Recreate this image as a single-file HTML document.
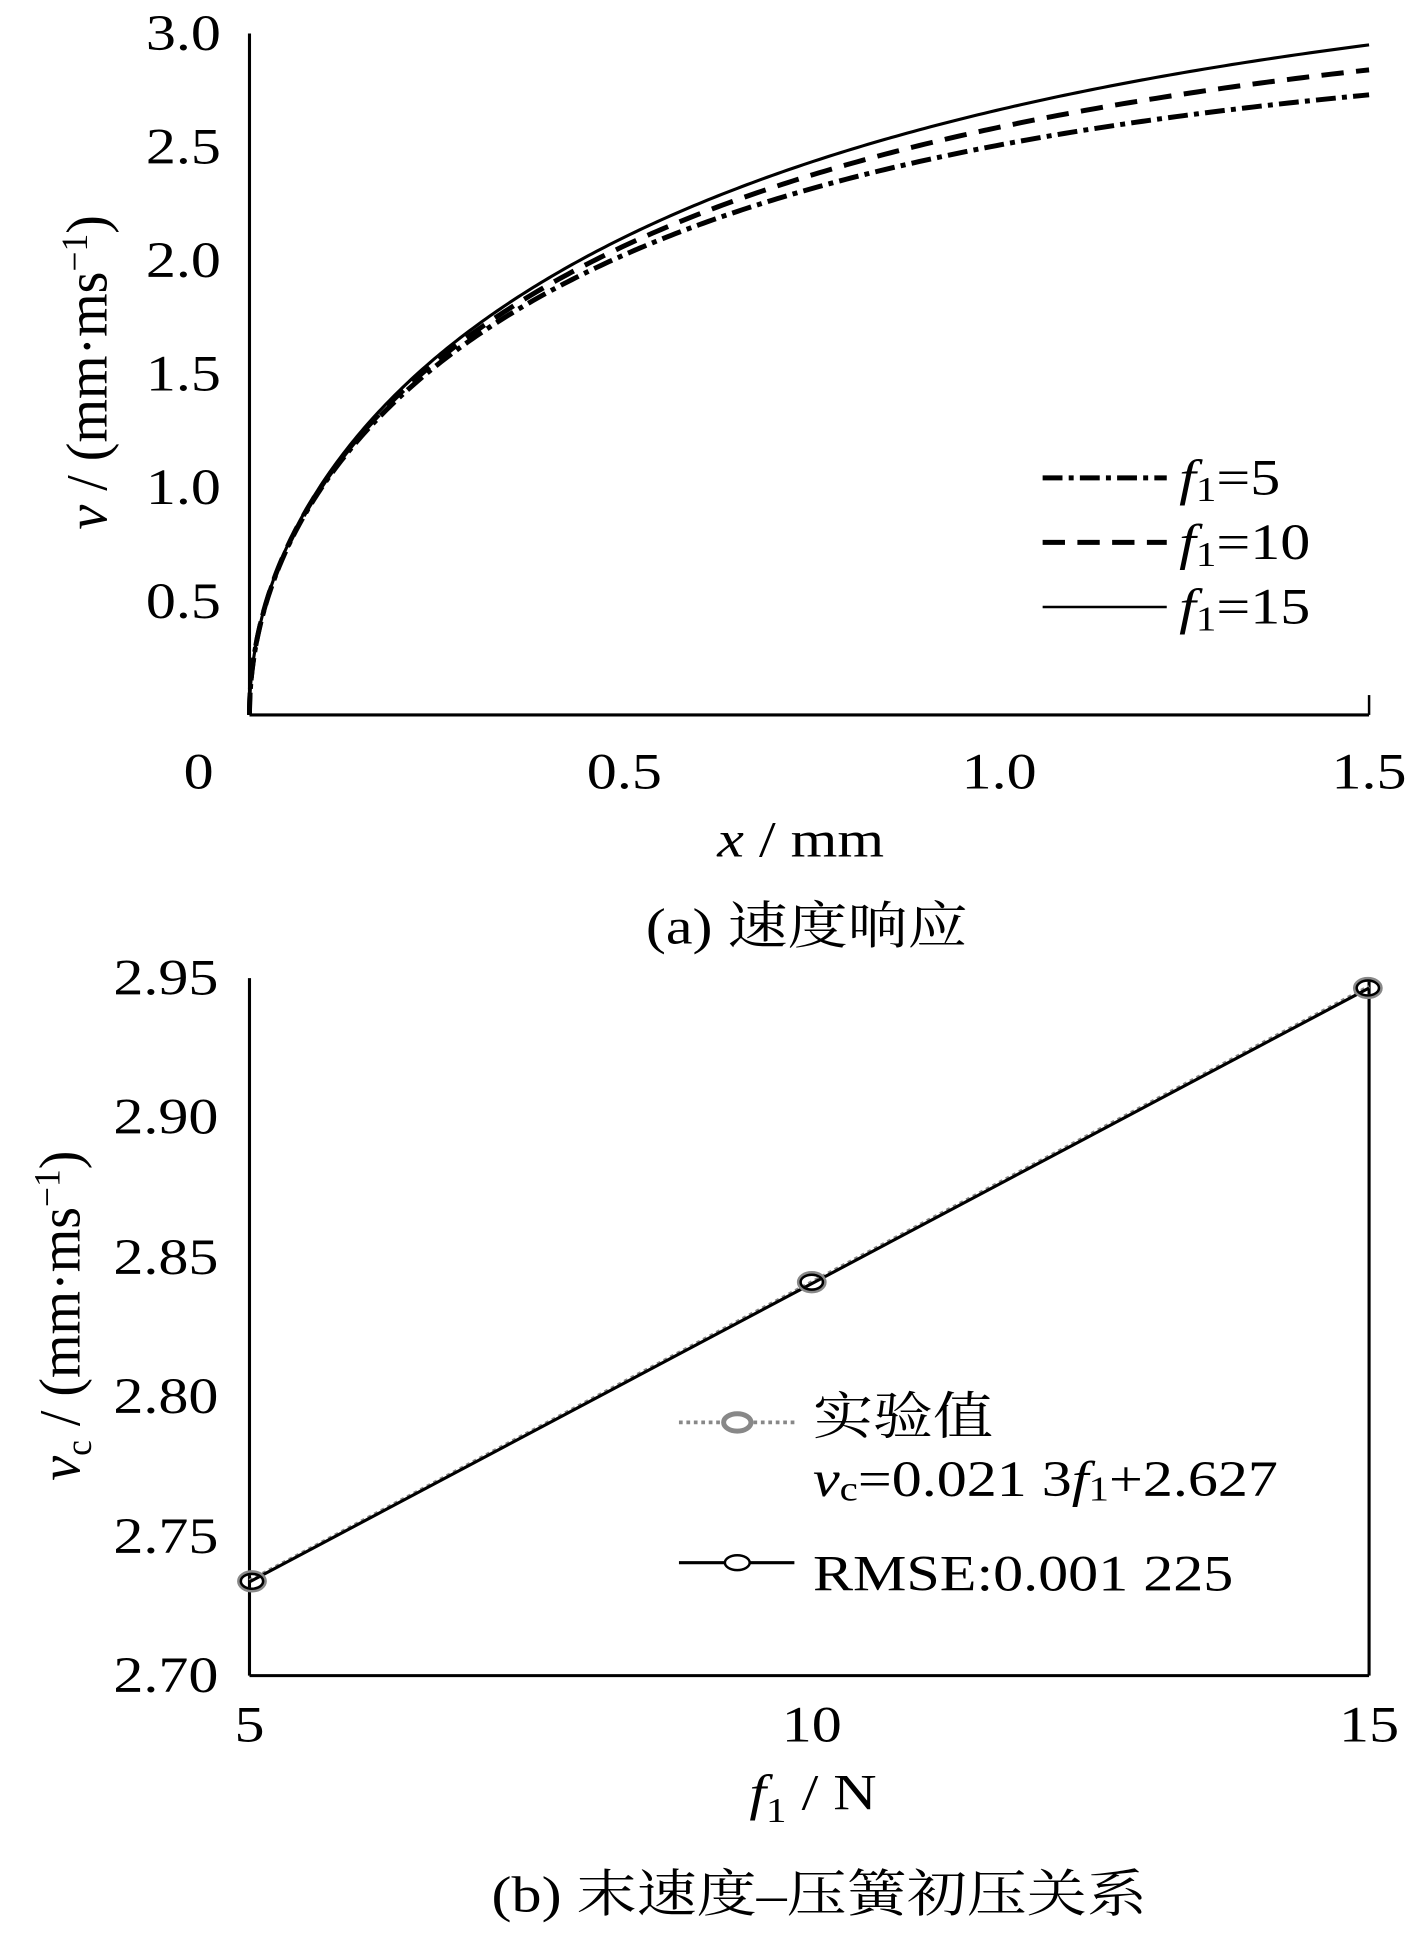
<!DOCTYPE html>
<html><head><meta charset="utf-8"><style>html,body{margin:0;padding:0;background:#fff}svg{display:block}text{font-family:"Liberation Serif","Noto Serif CJK SC",serif;fill:#000}
.e{transform-box:fill-box;transform-origin:right center;transform:scaleX(1.18)}
.m{transform-box:fill-box;transform-origin:center center;transform:scaleX(1.18)}
.s{transform-box:fill-box;transform-origin:left center;transform:scaleX(1.18)}
</style></head><body>
<svg width="1415" height="1958" viewBox="0 0 1140 1577.5" preserveAspectRatio="none" xmlns="http://www.w3.org/2000/svg">
<g font-size="41">
<line x1="201" y1="27" x2="201" y2="576" stroke="#000" stroke-width="2.5"/>
<line x1="201" y1="576" x2="1103" y2="576" stroke="#000" stroke-width="2.5"/>
<line x1="1103" y1="560" x2="1103" y2="576" stroke="#000" stroke-width="2"/>
<g text-anchor="end" dominant-baseline="central">
<text class="e" x="178" y="27">3.0</text><text class="e" x="178" y="118.5">2.5</text><text class="e" x="178" y="210">2.0</text><text class="e" x="178" y="301.5">1.5</text><text class="e" x="178" y="393">1.0</text><text class="e" x="178" y="484.5">0.5</text>
</g>
<g text-anchor="middle" dominant-baseline="central">
<text class="m" x="160" y="622">0</text><text class="m" x="503" y="622">0.5</text><text class="m" x="805" y="622">1.0</text><text class="m" x="1103" y="622">1.5</text>
</g>
<text class="m" x="645" y="690" text-anchor="middle"><tspan font-style="italic">x</tspan> / mm</text>
<text class="m" x="650" y="760" text-anchor="middle">(a)  速度响应</text>
<text transform="translate(86,300) rotate(-90) scale(1.1,1.15)" text-anchor="middle"><tspan font-style="italic">v</tspan> / (mm·ms<tspan font-size="26" dy="-14">−1</tspan><tspan dy="14">)</tspan></text>
<path id="c5" fill="none" stroke="#000" stroke-width="4" stroke-dasharray="16,5,4,5" d=""/>
<path id="c10" fill="none" stroke="#000" stroke-width="4" stroke-dasharray="18,10" d=""/>
<path id="c15" fill="none" stroke="#000" stroke-width="2.5" d=""/>
<line x1="840" y1="385" x2="940" y2="385" stroke="#000" stroke-width="4" stroke-dasharray="16,5,4,5"/>
<line x1="840" y1="437" x2="940" y2="437" stroke="#000" stroke-width="4" stroke-dasharray="18,10"/>
<line x1="840" y1="489" x2="940" y2="489" stroke="#000" stroke-width="2"/>
<g dominant-baseline="central">
<text class="s" x="950" y="385"><tspan font-style="italic">f</tspan><tspan font-size="28" dy="10">1</tspan><tspan dy="-10">=5</tspan></text>
<text class="s" x="950" y="437"><tspan font-style="italic">f</tspan><tspan font-size="28" dy="10">1</tspan><tspan dy="-10">=10</tspan></text>
<text class="s" x="950" y="489"><tspan font-style="italic">f</tspan><tspan font-size="28" dy="10">1</tspan><tspan dy="-10">=15</tspan></text>
</g>
<line x1="201" y1="788" x2="201" y2="1350" stroke="#000" stroke-width="2.5"/>
<line x1="201" y1="1350" x2="1103" y2="1350" stroke="#000" stroke-width="2.5"/>
<line x1="1103" y1="788" x2="1103" y2="1350" stroke="#000" stroke-width="2.5"/>
<g text-anchor="end" dominant-baseline="central">
<text class="e" x="176" y="788">2.95</text><text class="e" x="176" y="900">2.90</text><text class="e" x="176" y="1013">2.85</text><text class="e" x="176" y="1125">2.80</text><text class="e" x="176" y="1238">2.75</text><text class="e" x="176" y="1350">2.70</text>
</g>
<g text-anchor="middle" dominant-baseline="central">
<text class="m" x="201" y="1390">5</text><text class="m" x="654" y="1390">10</text><text class="m" x="1103" y="1390">15</text>
</g>
<text class="m" x="655" y="1458" text-anchor="middle"><tspan font-style="italic">f</tspan><tspan font-size="28" dy="10">1</tspan><tspan dy="-10"> / N</tspan></text>
<text class="m" x="660" y="1540" text-anchor="middle">(b)  末速度–压簧初压关系</text>
<text transform="translate(64,1060) rotate(-90) scale(1.1,1.15)" text-anchor="middle"><tspan font-style="italic">v</tspan><tspan font-size="26" dy="8">c</tspan><tspan dy="-8"> / (mm·ms</tspan><tspan font-size="26" dy="-14">−1</tspan><tspan dy="14">)</tspan></text>
<polyline points="201,1273.6 654,1033 1103,794.8" fill="none" stroke="#888" stroke-width="3" stroke-dasharray="3,3"/>
<line x1="201" y1="1274.5" x2="1103" y2="796" stroke="#000" stroke-width="2.5"/>
<g fill="none">
<ellipse cx="203" cy="1274" rx="10" ry="7" stroke="#888" stroke-width="4"/>
<ellipse cx="654" cy="1033" rx="10" ry="7" stroke="#888" stroke-width="4"/>
<ellipse cx="1102" cy="796" rx="10" ry="7" stroke="#888" stroke-width="4"/>
<ellipse cx="203" cy="1274" rx="9" ry="6" stroke="#000" stroke-width="2"/>
<ellipse cx="654" cy="1033" rx="9" ry="6" stroke="#000" stroke-width="2"/>
<ellipse cx="1102" cy="796" rx="9" ry="6" stroke="#000" stroke-width="2"/>
</g>
<line x1="547" y1="1146" x2="640" y2="1146" stroke="#888" stroke-width="3" stroke-dasharray="3,3"/>
<ellipse cx="594" cy="1146" rx="11" ry="7" fill="#fff" stroke="#888" stroke-width="4"/>
<line x1="547" y1="1259" x2="640" y2="1259" stroke="#000" stroke-width="2.5"/>
<ellipse cx="594" cy="1259" rx="10" ry="6" fill="#fff" stroke="#000" stroke-width="2"/>
<g dominant-baseline="central">
<text class="s" x="655" y="1142">实验值</text>
<text class="s" x="655" y="1192"><tspan font-style="italic">v</tspan><tspan font-size="28" dy="8">c</tspan><tspan dy="-8">=0.021 3</tspan><tspan font-style="italic">f</tspan><tspan font-size="28" dy="8">1</tspan><tspan dy="-8">+2.627</tspan></text>
<text class="s" x="655" y="1268">RMSE:0.001 225</text>
</g>
</g>
<script>
function mk(id,vend,k){var B=vend*vend/(1-Math.exp(-1.5*k));var d='';for(var i=0;i<=300;i++){var x=1.5*Math.pow(i/300,2);var v=Math.sqrt(B*(1-Math.exp(-k*x)));var px=201+x*601.33,py=576-v*183;d+=(i?'L':'M')+px.toFixed(2)+','+py.toFixed(2);}document.getElementById(id).setAttribute('d',d);}
mk('c5',2.73,1.25);
mk('c10',2.84,1.12);
mk('c15',2.95,1.0);
</script>
</svg>
</body></html>
